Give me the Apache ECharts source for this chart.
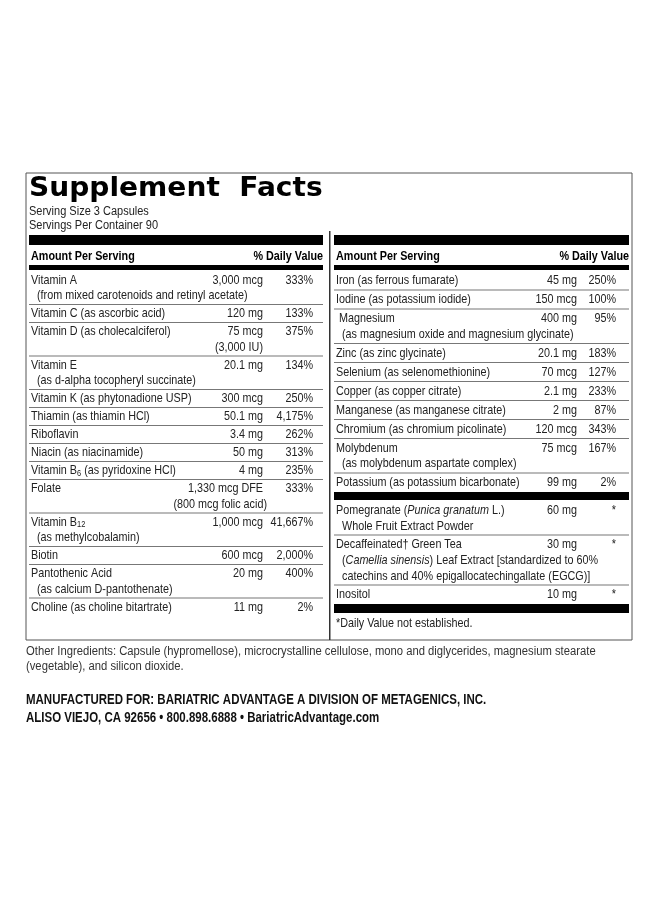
<!DOCTYPE html>
<html>
<head>
<meta charset="utf-8">
<script src="https://cdn.jsdelivr.net/npm/echarts@6/dist/echarts.min.js"></script>
<style>body{margin:0;background:#fff}</style>
</head>
<body>
<div id="main" style="width:660px;height:900px;"></div>
<script>
    // 左栏数据
    var leftNames = [
        ['Vitamin A', '  (from mixed carotenoids and retinyl acetate)'],
        ['Vitamin C (as ascorbic acid)'],
        ['Vitamin D (as cholecalciferol)', ''],
        ['Vitamin E', '  (as d-alpha tocopheryl succinate)'],
        ['Vitamin K (as phytonadione USP)'],
        ['Thiamin (as thiamin HCl)'],
        ['Riboflavin'],
        ['Niacin (as niacinamide)'],
        ['Vitamin B{s|6} (as pyridoxine HCl)'],
        ['Folate', ''],
        ['Vitamin B{s|12}', '  (as methylcobalamin)'],
        ['Biotin'],
        ['Pantothenic Acid', '  (as calcium D-pantothenate)'],
        ['Choline (as choline bitartrate)']
    ];
    var leftAmounts = [
        ['3,000 mcg'], ['120 mg'], ['75 mcg', '(3,000 IU)'], ['20.1 mg'], ['300 mcg'],
        ['50.1 mg'], ['3.4 mg'], ['50 mg'], ['4 mg'], ['1,330 mcg DFE', '(800 mcg folic acid)'],
        ['1,000 mcg'], ['600 mcg'], ['20 mg'], ['11 mg']
    ];
    var leftDV = ['333%', '133%', '375%', '134%', '250%', '4,175%', '262%', '313%', '235%', '333%', '41,667%', '2,000%', '400%', '2%'];

    // 右栏数据
    var rightNames = [
        ['Iron (as ferrous fumarate)'],
        ['Iodine (as potassium iodide)'],
        [' Magnesium', '  (as magnesium oxide and magnesium glycinate)'],
        ['Zinc (as zinc glycinate)'],
        ['Selenium (as selenomethionine)'],
        ['Copper (as copper citrate)'],
        ['Manganese (as manganese citrate)'],
        ['Chromium (as chromium picolinate)'],
        ['Molybdenum', '  (as molybdenum aspartate complex)'],
        ['Potassium (as potassium bicarbonate)']
    ];
    var rightAmounts = ['45 mg', '150 mcg', '400 mg', '20.1 mg', '70 mcg', '2.1 mg', '2 mg', '120 mcg', '75 mcg', '99 mg'];
    var rightDV = ['250%', '100%', '95%', '183%', '127%', '233%', '87%', '343%', '167%', '2%'];

    var otherNames = [
        ['Pomegranate ({i|Punica granatum} L.)', '  Whole Fruit Extract Powder'],
        ['Decaffeinated† Green Tea', '  ({i|Camellia sinensis}) Leaf Extract [standardized to 60%', '  catechins and 40% epigallocatechingallate (EGCG)]'],
        ['Inositol']
    ];
    var otherAmounts = ['60 mg', '30 mg', '10 mg'];
    var otherDV = ['*', '*', '*'];

    var FONT = '"Liberation Sans", Arial, sans-serif';
    var g = [];
    var rich = {
        s: {fontSize: 9, verticalAlign: 'bottom', padding: [6, 0, 0, 0], fontFamily: FONT, fill: '#222'},
        i: {fontStyle: 'italic', fontSize: 13, fontFamily: FONT, fill: '#222'}
    };

    function txt(x, y, s, opt) {
        opt = opt || {};
        g.push({
            type: 'text', x: x, y: y, scaleX: opt.sx || 0.83,
            style: {
                text: s, fill: opt.color || '#222', font: (opt.weight || 'normal') + ' ' + (opt.size || 13) + 'px ' + (opt.family || FONT),
                textAlign: opt.align || 'left', textVerticalAlign: 'middle', rich: rich
            }
        });
    }
    function rect(x, y, w, h, c) {
        g.push({type: 'rect', shape: {x: x, y: y, width: w, height: h}, style: {fill: c || '#000'}});
    }

    // 外框
    g.push({type: 'rect', shape: {x: 26, y: 173, width: 606, height: 467}, style: {fill: 'none', stroke: '#555', lineWidth: 1}});
    rect(329, 231, 1.5, 409, '#333');

    txt(29, 189, 'Supplement  Facts', {size: 27, weight: 'bold', family: '"DejaVu Sans", sans-serif', color: '#000', sx: 1.04});
    txt(29, 212, 'Serving Size 3 Capsules', {size: 12.5, sx: 0.88});
    txt(29, 226, 'Servings Per Container 90', {size: 12.5, sx: 0.88});

    function header(x0, x1) {
        rect(x0, 235, x1 - x0, 10);
        txt(x0 + 2, 256, 'Amount Per Serving', {weight: 'bold', color: '#000'});
        txt(x1, 256, '% Daily Value', {weight: 'bold', align: 'right', color: '#000'});
        rect(x0, 265, x1 - x0, 5);
    }
    header(29, 323);
    header(334, 629);

    function rows(names, amts, dvs, x0, x1, xa, xd, top, step, sub) {
        var y = top;
        for (var i = 0; i < names.length; i++) {
            var n = names[i].length;
            var h = n === 1 ? step : step + (n - 1) * sub;
            for (var k = 0; k < n; k++) {
                txt(x0 + 2, y + step / 2 + k * sub, names[i][k]);
            }
            var a = Array.isArray(amts[i]) ? amts[i] : [amts[i]];
            for (k = 0; k < a.length; k++) {
                txt(xa + (k > 0 && a[k].length > 12 ? 4 : 0), y + step / 2 + k * sub, a[k], {align: 'right'});
            }
            txt(xd, y + step / 2, dvs[i], {align: 'right'});
            y += h;
            if (i < names.length - 1) rect(x0, y - 0.5, x1 - x0, 1, '#777');
        }
        return y;
    }
    rows(leftNames, leftAmounts, leftDV, 29, 323, 263, 313, 271, 18, 15.5);
    var yb = rows(rightNames, rightAmounts, rightDV, 334, 629, 577, 616, 271, 19, 15.5);
    rect(334, yb, 295, 8);
    var yc = rows(otherNames, otherAmounts, otherDV, 334, 629, 577, 616, yb + 9, 18, 16);
    rect(334, yc + 1, 295, 9);
    txt(336, yc + 20, '*Daily Value not established.');

    txt(26, 652, 'Other Ingredients: Capsule (hypromellose), microcrystalline cellulose, mono and diglycerides, magnesium stearate', {size: 12.5, color: '#333', sx: 0.9});
    txt(26, 667, '(vegetable), and silicon dioxide.', {size: 12.5, color: '#333', sx: 0.9});
    txt(26, 700, 'MANUFACTURED FOR: BARIATRIC ADVANTAGE A DIVISION OF METAGENICS, INC.', {size: 14, weight: 'bold', color: '#111', sx: 0.82});
    txt(26, 718, 'ALISO VIEJO, CA 92656 • 800.898.6888 • BariatricAdvantage.com', {size: 14, weight: 'bold', color: '#111', sx: 0.82});

    var myChart = echarts.init(document.getElementById('main'));
    myChart.setOption({animation: false, graphic: g});
</script>
</body>
</html>
